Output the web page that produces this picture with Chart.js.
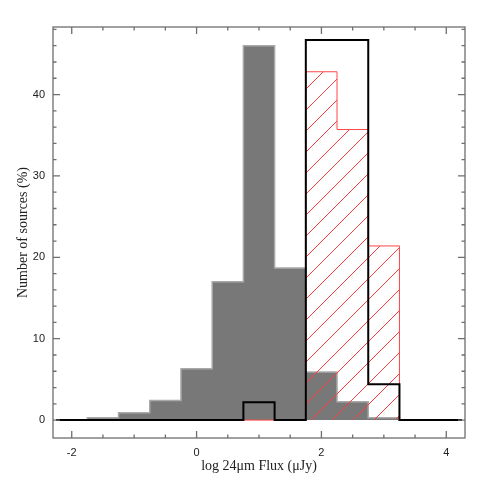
<!DOCTYPE html>
<html>
<head>
<meta charset="utf-8">
<script src="https://cdn.jsdelivr.net/npm/chart.js@4.4.0/dist/chart.umd.min.js"></script>
<style>
html, body { margin: 0; padding: 0; background: #fff; }
</style>
</head>
<body>
<canvas id="histChart" width="491" height="491"></canvas>
<script>
// histogram bins (log flux), width 0.5
const binCenters = [-2, -1.5, -1, -0.5, 0, 0.5, 1, 1.5, 2, 2.5, 3, 3.5, 4];
const binWidth = 0.5;
const grayValues = [0, 0.3, 0.9, 2.4, 6.3, 17, 46, 18.7, 5.9, 2.25, 0.3, 0, 0];
const redValues = [0, 0, 0, 0, 0, 0, 0, 0, 42.8, 35.7, 21.4, 0, 0];
const blackValues = [0, 0, 0, 0, 0, 0, 2.2, 0, 46.7, 46.7, 4.4, 0, 0];
const xTickLabels = [-2, 0, 2, 4];
const yTickLabels = [0, 10, 20, 30, 40];

// turn bin values into step points at the bin edges
function stepPoints(vals) {
    const pts = binCenters.map((c, i) => ({ x: c - binWidth / 2, y: vals[i] }));
    pts.push({ x: binCenters[binCenters.length - 1] + binWidth / 2, y: vals[vals.length - 1] });
    return pts;
}

// red diagonal hatching inside the red histogram bins (drawn pixel by pixel, no antialiasing)
const hatchFill = {
    id: 'hatchFill',
    beforeDatasetDraw(chart, args) {
        if (args.index !== 1) return;
        const { ctx, scales: { x, y } } = chart;
        const y0 = Math.round(y.getPixelForValue(0));
        const gap = 21;
        ctx.save();
        ctx.fillStyle = 'rgb(255,60,60)';
        redValues.forEach((v, i) => {
            if (v <= 0) return;
            const l = Math.round(x.getPixelForValue(binCenters[i] - binWidth / 2));
            const r = Math.round(x.getPixelForValue(binCenters[i] + binWidth / 2));
            const t = Math.round(y.getPixelForValue(v));
            for (let px = l; px < r; px++) {
                for (let py = t; py < y0; py++) {
                    if ((px + py) % gap === 16) ctx.fillRect(px, py, 1, 1);
                }
            }
        });
        ctx.restore();
    }
};

// box with inward ticks on all four sides
const frameTicks = {
    id: 'frameTicks',
    afterDraw(chart) {
        const { ctx, chartArea: a, scales: { x, y } } = chart;
        ctx.save();
        ctx.strokeStyle = '#6e6e6e';
        ctx.lineWidth = 1.3;
        ctx.strokeRect(a.left, a.top, a.right - a.left, a.bottom - a.top);
        ctx.beginPath();
        for (let i = -4; i <= 8; i++) {
            const px = x.getPixelForValue(i / 2);
            const len = (i % 4 === 0) ? 7 : 3.5;
            ctx.moveTo(px, a.bottom); ctx.lineTo(px, a.bottom - len);
            ctx.moveTo(px, a.top); ctx.lineTo(px, a.top + len);
        }
        for (let v = 0; v <= 48; v += 2) {
            const py = y.getPixelForValue(v);
            const len = (v % 10 === 0) ? 7 : 3.5;
            ctx.moveTo(a.left, py); ctx.lineTo(a.left + len, py);
            ctx.moveTo(a.right, py); ctx.lineTo(a.right - len, py);
        }
        ctx.stroke();
        ctx.restore();
    }
};

const tickFont = { family: 'Liberation Sans', size: 11 };
const titleFont = { family: 'Liberation Serif', size: 14 };

new Chart(document.getElementById('histChart'), {
    type: 'line',
    data: {
        datasets: [
            {
                // black outline
                data: stepPoints(blackValues),
                stepped: true,
                borderColor: '#000',
                borderWidth: 2,
                fill: false,
                pointRadius: 0,
                borderJoinStyle: 'miter'
            },
            {
                // red hatched
                data: stepPoints(redValues),
                stepped: true,
                borderColor: 'rgb(255,70,70)',
                borderWidth: 1,
                fill: false,
                pointRadius: 0,
                borderJoinStyle: 'miter'
            },
            {
                // gray filled
                data: stepPoints(grayValues),
                stepped: true,
                borderColor: '#a9a9a9',
                borderWidth: 1.5,
                backgroundColor: '#787878',
                fill: 'origin',
                pointRadius: 0,
                borderJoinStyle: 'miter'
            }
        ]
    },
    options: {
        responsive: false,
        animation: false,
        devicePixelRatio: 1,
        layout: { padding: { left: 0, top: 27, right: 26, bottom: 0 } },
        plugins: { legend: { display: false }, tooltip: { enabled: false } },
        scales: {
            x: {
                type: 'linear',
                min: -2.3,
                max: 4.3,
                grid: { display: false, drawTicks: false },
                border: { display: false },
                afterBuildTicks: s => { s.ticks = xTickLabels.map(v => ({ value: v })); },
                afterFit: s => { s.height = 53; },
                ticks: { font: tickFont, color: '#222', padding: 8, maxRotation: 0, autoSkip: false },
                title: {
                    display: true,
                    text: 'log 24\u03bcm Flux (\u03bcJy)',
                    font: titleFont,
                    color: '#222',
                    padding: { top: 0, bottom: 16 }
                }
            },
            y: {
                min: -2.2,
                max: 48.3,
                grid: { display: false, drawTicks: false },
                border: { display: false },
                afterBuildTicks: s => { s.ticks = yTickLabels.map(v => ({ value: v })); },
                afterFit: s => { s.width = 53; },
                ticks: { font: tickFont, color: '#222', padding: 8, autoSkip: false },
                title: {
                    display: true,
                    text: 'Number of sources (%)',
                    font: titleFont,
                    color: '#222',
                    padding: { top: 15, bottom: 0 }
                }
            }
        }
    },
    plugins: [hatchFill, frameTicks]
});
</script>
</body>
</html>
